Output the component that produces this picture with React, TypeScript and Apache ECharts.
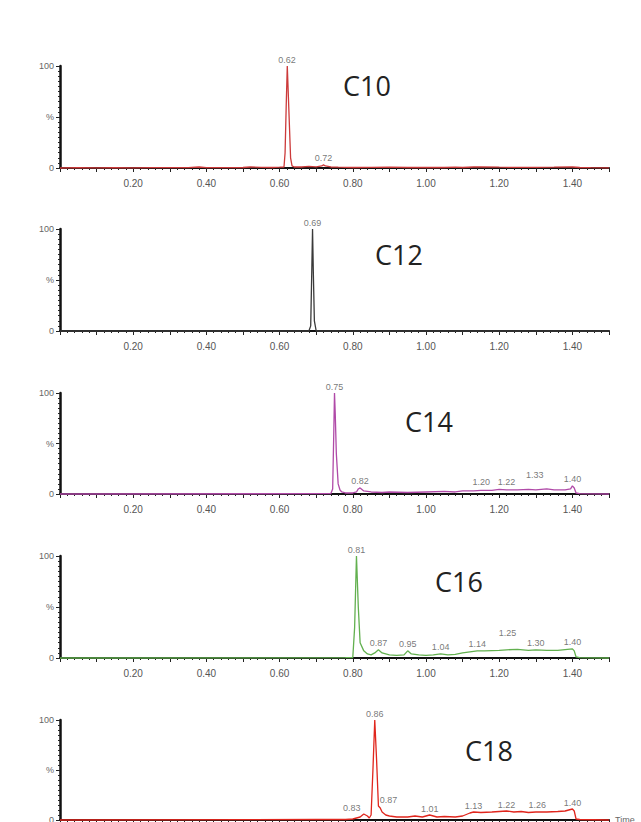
import React, { useEffect, useRef } from "react";
import * as echarts from "echarts";

// ---------- data (time in min, relative intensity in %) ----------
const panelNames = ["C10", "C12", "C14", "C16", "C18"];
const panelColors = ["#cc3a3a", "#3a3a3a", "#b04aa8", "#62b04f", "#e0261d"];

const c10Trace: number[][] = [
  [0, 0], [0.05, 0.3], [0.1, 0.2], [0.15, 0.3], [0.2, 0.2], [0.25, 0.3], [0.3, 0.4], [0.35, 0.3],
  [0.38, 1.0], [0.4, 0.3], [0.45, 0.3], [0.5, 0.5], [0.52, 1.0], [0.55, 0.6], [0.58, 0.5], [0.6, 0.8],
  [0.612, 1], [0.615, 15], [0.618, 60], [0.621, 100], [0.624, 70], [0.627, 40], [0.63, 10], [0.634, 2],
  [0.64, 1], [0.66, 1], [0.68, 1.5], [0.7, 1.2], [0.715, 2], [0.72, 3], [0.725, 2], [0.74, 1],
  [0.76, 0.8], [0.8, 0.5], [0.85, 0.6], [0.9, 0.8], [0.95, 0.5], [1.0, 0.6], [1.05, 0.5], [1.08, 0.8],
  [1.1, 0.5], [1.13, 1], [1.15, 1.2], [1.2, 0.8], [1.25, 0.6], [1.3, 0.7], [1.35, 0.8], [1.4, 1],
  [1.42, 0.5], [1.45, 0.3], [1.5, 0.2],
];
const c12Trace: number[][] = [
  [0, 0], [0.68, 0], [0.685, 5], [0.688, 60], [0.69, 100], [0.692, 60], [0.695, 10], [0.7, 0], [1.5, 0],
];
const c14Trace: number[][] = [
  [0, 0], [0.7, 0.3], [0.74, 0.5], [0.745, 5], [0.748, 60], [0.75, 100], [0.752, 80], [0.755, 40],
  [0.76, 10], [0.765, 4], [0.77, 2], [0.78, 1], [0.8, 1], [0.81, 2], [0.815, 5], [0.82, 6], [0.83, 3],
  [0.85, 2], [0.88, 1.5], [0.9, 2], [0.95, 1.5], [1.0, 2], [1.05, 2.5], [1.08, 2], [1.1, 3], [1.13, 3],
  [1.15, 3.5], [1.18, 3.5], [1.2, 4.5], [1.22, 4], [1.25, 4], [1.28, 4.5], [1.3, 4], [1.33, 5],
  [1.35, 4], [1.38, 4], [1.395, 5], [1.4, 8], [1.405, 6], [1.41, 1], [1.42, 0.3], [1.5, 0],
];
const c16Trace: number[][] = [
  [0, 0], [0.78, 0.3], [0.8, 0.5], [0.805, 30], [0.81, 100], [0.815, 50], [0.82, 15], [0.83, 7],
  [0.84, 4], [0.85, 3], [0.86, 5], [0.87, 8], [0.88, 5], [0.9, 3], [0.92, 2.5], [0.94, 3],
  [0.95, 7], [0.96, 4], [0.98, 3], [1.0, 2.5], [1.02, 3], [1.04, 4], [1.06, 3], [1.08, 3.5],
  [1.1, 5], [1.12, 6], [1.14, 7], [1.16, 7], [1.2, 7.5], [1.22, 8], [1.25, 8.5], [1.28, 7.5],
  [1.3, 8], [1.33, 7.5], [1.36, 7.5], [1.4, 9], [1.405, 7], [1.41, 1], [1.42, 0.3], [1.5, 0],
];
const c18Trace: number[][] = [
  [0, 0], [0.7, 0.5], [0.78, 0.5], [0.8, 1], [0.82, 3], [0.83, 6], [0.84, 4], [0.845, 2], [0.85, 5],
  [0.855, 50], [0.86, 100], [0.865, 60], [0.87, 14], [0.875, 12], [0.88, 8], [0.89, 5], [0.9, 4],
  [0.92, 3], [0.95, 3], [0.97, 4], [0.99, 3], [1.01, 5], [1.03, 3], [1.05, 3.5], [1.08, 3], [1.1, 4],
  [1.12, 7], [1.13, 8], [1.15, 7.5], [1.18, 8], [1.2, 8.5], [1.22, 9], [1.24, 8], [1.26, 8.5],
  [1.28, 7.5], [1.3, 8], [1.33, 8], [1.36, 8.5], [1.38, 9], [1.4, 11], [1.405, 9], [1.41, 1],
  [1.42, 0.5], [1.5, 0],
];

// annotated peaks: [retention time, label height in %]
const c10Peaks: number[][] = [[0.62, 100], [0.72, 3]];
const c12Peaks: number[][] = [[0.69, 100]];
const c14Peaks: number[][] = [[0.75, 100], [0.82, 6], [1.2, 5], [1.22, 5], [1.33, 12], [1.4, 8]];
const c16Peaks: number[][] = [[0.81, 100], [0.87, 8], [0.95, 7], [1.04, 4], [1.14, 7], [1.25, 18], [1.3, 8], [1.4, 9]];
const c18Peaks: number[][] = [[0.86, 100], [0.83, 6], [0.87, 14], [1.01, 5], [1.13, 8], [1.22, 9], [1.26, 8.5], [1.4, 11]];

const traces = [c10Trace, c12Trace, c14Trace, c16Trace, c18Trace];
const peaks = [c10Peaks, c12Peaks, c14Peaks, c16Peaks, c18Peaks];

// ---------- layout ----------
const gridTops = [66, 229, 393, 556, 720];
const gridHeights = [102, 102, 101, 102, 100];
const titlePos = [[343, 72], [375, 241], [405, 408], [435, 568], [465, 737]];
// horizontal label nudges (px) for crowded annotations, keyed "panel:time"
const labelNudge: Record<string, number> = {
  "2:1.2": -18, "2:1.33": -12, "3:1.25": -10, "4:0.83": -12, "4:0.87": 10, "4:1.26": 16,
};

export default function App() {
  const ref = useRef<HTMLDivElement>(null);
  useEffect(() => {
    const chart = echarts.init(ref.current!, null, { renderer: "svg" });
    const labelFont = "Liberation Sans";
    const grids: any[] = [];
    const xAxes: any[] = [];
    const yAxes: any[] = [];
    const series: any[] = [];
    panelNames.forEach((name, i) => {
      grids.push({
        left: 60,
        right: 32,
        top: gridTops[i],
        height: gridHeights[i],
        outerBoundsMode: "none",
        containLabel: false,
      });
      xAxes.push({
        type: "value",
        gridIndex: i,
        min: 0,
        max: 1.5,
        interval: 0.1,
        name: i === 4 ? "Time" : "",
        nameLocation: "end",
        nameGap: 6,
        nameTextStyle: { color: "#666", fontSize: 9, fontFamily: labelFont },
        axisLine: { show: true, onZero: false, lineStyle: { color: "#111", width: 2 } },
        axisTick: { show: true, length: 4, lineStyle: { color: "#222", width: 1 } },
        minorTick: { show: true, splitNumber: 5, length: 2, lineStyle: { color: "#222", width: 1 } },
        splitLine: { show: false },
        minorSplitLine: { show: false },
        axisLabel: {
          show: i < 4,
          color: "#555",
          fontSize: 10,
          fontFamily: labelFont,
          margin: 10,
          formatter: (v: number) => {
            const k = Math.round(v * 100);
            return k > 0 && k < 150 && k % 20 === 0 ? (k / 100).toFixed(2) : "";
          },
        },
      });
      yAxes.push({
        type: "value",
        gridIndex: i,
        min: 0,
        max: 100,
        interval: 50,
        axisLine: { show: true, lineStyle: { color: "#111", width: 2.5 } },
        axisTick: { show: true, length: 4, lineStyle: { color: "#222", width: 1 } },
        minorTick: { show: true, splitNumber: 10, length: 2, lineStyle: { color: "#222", width: 1 } },
        splitLine: { show: false },
        axisLabel: {
          color: "#666",
          fontSize: 9,
          fontFamily: labelFont,
          margin: 6,
          formatter: (v: number) => (v === 50 ? "%" : String(v)),
        },
      });
      series.push({
        type: "line",
        name,
        xAxisIndex: i,
        yAxisIndex: i,
        data: traces[i],
        showSymbol: false,
        symbol: "none",
        clip: false,
        lineStyle: { color: panelColors[i], width: 1.3 },
        z: 3,
      });
      series.push({
        type: "scatter",
        xAxisIndex: i,
        yAxisIndex: i,
        symbolSize: 0,
        silent: true,
        z: 4,
        data: peaks[i].map((p) => {
          const key = `${i}:${p[0]}`;
          const dx = labelNudge[key] || 0;
          return { value: p, label: { offset: [dx, 0] } };
        }),
        label: {
          show: true,
          position: "top",
          distance: 2,
          color: "#555",
          fontSize: 9,
          fontFamily: labelFont,
          formatter: (pr: any) => pr.value[0].toFixed(2),
        },
      });
    });

    const graphics = panelNames.map((name, i) => ({
      type: "text",
      x: titlePos[i][0],
      y: titlePos[i][1],
      style: {
        text: name,
        font: "27px 'Open Sans'",
        fill: "#222",
        textVerticalAlign: "top",
      },
    }));

    chart.setOption({
      animation: false,
      backgroundColor: "#ffffff",
      grid: grids,
      xAxis: xAxes,
      yAxis: yAxes,
      series,
      graphic: graphics,
    });
    return () => chart.dispose();
  }, []);
  return <div ref={ref} style={{ position: "absolute", left: 0, top: 0, width: 641, height: 822 }} />;
}
